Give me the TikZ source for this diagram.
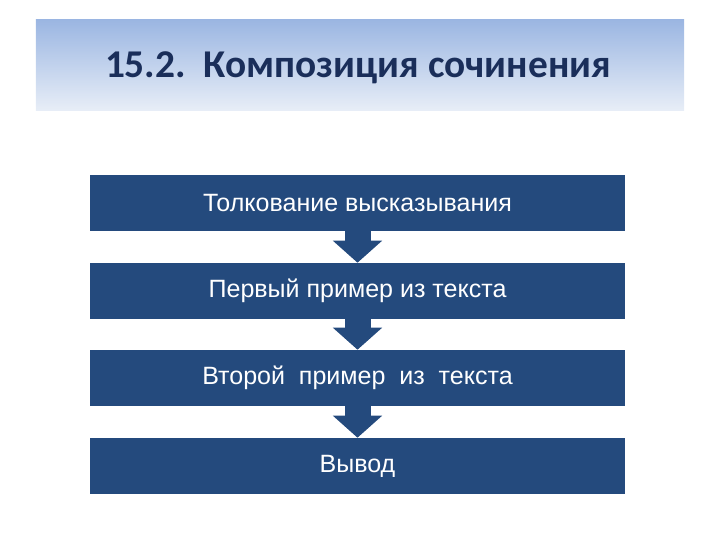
\documentclass[tikz,border=0pt]{standalone}
\usepackage{fontspec}
\setmainfont{Liberation Sans}
\newfontfamily\titlefont{Carlito}
\usepackage{xcolor}
\usepackage{tikz}
\usetikzlibrary{shapes,arrows.meta,positioning}

\definecolor{boxblue}{RGB}{36,74,125}
\definecolor{titleblue}{RGB}{26,46,90}
\definecolor{bandtop}{RGB}{155,182,226}
\definecolor{bandbot}{RGB}{232,238,247}

\tikzset{
  stage/.style={rectangle, fill=boxblue, text=white, minimum width=13.375cm,
    minimum height=1.4cm, inner sep=0pt, font=\fontsize{17.8}{21}\selectfont},
  flowarrow/.style={boxblue, line width=0.65cm,
    -{Triangle[width=1.2cm,length=0.55cm]}}
}

\begin{document}
\begin{tikzpicture}[scale = 1]
\useasboundingbox (0,0) rectangle (18,13.5);

% banner
\shade [top color=bandtop, bottom color=bandbot] (0.9,10.725) rectangle (17.1,13.0);
\node[font=\titlefont\bfseries\fontsize{28}{33}\selectfont, text=titleblue] (title) at (8.95,11.8)
  {15.2.\ \ Композиция сочинения};

% stages
\node[stage] (b1) at (8.9375,8.425) {Толкование высказывания};
\node[stage] (b2) at (8.9375,6.225) {Первый пример из текста};
\node[stage] (b3) at (8.9375,4.05) {Второй\ \ пример\ \ из\ \ текста};
\node[stage] (b4) at (8.9375,1.85) {Вывод};

\foreach \a/\b in {b1/b2, b2/b3, b3/b4}
\draw [flowarrow] (\a.south) -- (\b.north);

\end{tikzpicture}
\end{document}
